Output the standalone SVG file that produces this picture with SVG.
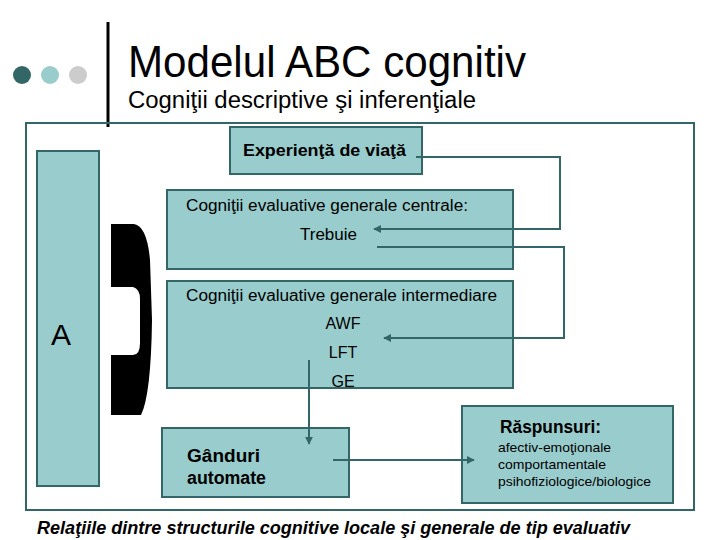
<svg xmlns="http://www.w3.org/2000/svg" width="720" height="540" viewBox="0 0 720 540">
<defs>
<style>
.box{fill:#99cccc;stroke:#336666;stroke-width:2}
.con{fill:none;stroke:#336666;stroke-width:2}
.t{font-family:"Liberation Sans",Arial,sans-serif;fill:#000}
.b{font-weight:bold}
</style>
<marker id="ah" viewBox="0 0 10 10" refX="9" refY="5" markerWidth="4" markerHeight="4" orient="auto">
<path d="M0,0 L10,5 L0,10 Z" fill="#336666"/>
</marker>
</defs>
<rect width="720" height="540" fill="#fff"/>
<g id="header">
<circle cx="22" cy="75" r="9" fill="#336666"/>
<circle cx="50" cy="75" r="9" fill="#99cccc"/>
<circle cx="78" cy="75" r="9" fill="#cccccc"/>
<line x1="108" y1="22" x2="108" y2="127" stroke="#000" stroke-width="3"/>
<text class="t" x="128" y="77" font-size="44" textLength="398" lengthAdjust="spacingAndGlyphs">Modelul ABC cognitiv</text>
<text class="t" x="128" y="108" font-size="23" textLength="348" lengthAdjust="spacingAndGlyphs">Cogniţii descriptive şi inferenţiale</text>
</g>
<rect id="frame" x="26" y="123" width="668" height="387" fill="none" stroke="#336666" stroke-width="2"/>
<g id="nodeA">
<rect class="box" x="37" y="151" width="62" height="335"/>
<text class="t" x="51" y="345" font-size="30">A</text>
</g>
<g id="bracket">
<path fill="#000" fill-rule="evenodd" d="M111,224 L134,224 Q147,226 150,260 L152,320 Q151,395 141,415 L111,415 Z M111,287 L133,287 Q140,289 140,299 L140,343 Q140,355 133,355 L111,355 Z"/>
</g>
<g id="experienta">
<rect class="box" x="230" y="127" width="192" height="47"/>
<text class="t b" x="243" y="156" font-size="16" textLength="163" lengthAdjust="spacingAndGlyphs">Experienţă de viaţă</text>
</g>
<g id="centrale">
<rect class="box" x="167" y="190" width="346" height="79"/>
<text class="t" x="186" y="211" font-size="16" textLength="282" lengthAdjust="spacingAndGlyphs">Cogniţii evaluative generale centrale:</text>
<text class="t" x="300" y="240" font-size="16" textLength="57" lengthAdjust="spacingAndGlyphs">Trebuie</text>
</g>
<g id="intermediare">
<rect class="box" x="167" y="281" width="346" height="107"/>
<text class="t" x="186" y="301" font-size="16" textLength="311" lengthAdjust="spacingAndGlyphs">Cogniţii evaluative generale intermediare</text>
<text class="t" x="343" y="329" font-size="16" text-anchor="middle">AWF</text>
<text class="t" x="343" y="358" font-size="16" text-anchor="middle">LFT</text>
<text class="t" x="343" y="387" font-size="16" text-anchor="middle">GE</text>
</g>
<g id="ganduri">
<rect class="box" x="162" y="428" width="187" height="69"/>
<text class="t b" x="187" y="462" font-size="18" textLength="73" lengthAdjust="spacingAndGlyphs">Gânduri</text>
<text class="t b" x="187" y="484" font-size="18" textLength="79" lengthAdjust="spacingAndGlyphs">automate</text>
</g>
<g id="raspunsuri">
<rect class="box" x="462" y="406" width="211" height="97"/>
<text class="t b" x="500" y="433" font-size="18" textLength="101" lengthAdjust="spacingAndGlyphs">Răspunsuri:</text>
<text class="t" x="498" y="452" font-size="13" textLength="113" lengthAdjust="spacingAndGlyphs">afectiv-emoţionale</text>
<text class="t" x="498" y="469" font-size="13" textLength="108" lengthAdjust="spacingAndGlyphs">comportamentale</text>
<text class="t" x="498" y="486" font-size="13" textLength="153" lengthAdjust="spacingAndGlyphs">psihofiziologice/biologice</text>
</g>
<g id="connectors">
<polyline class="con" points="416,157 560,157 560,229 374,229" marker-end="url(#ah)"/>
<polyline class="con" points="377,247 564,247 564,338 384,338" marker-end="url(#ah)"/>
<polyline class="con" points="309,360 309,444" marker-end="url(#ah)"/>
<polyline class="con" points="333,460 474,460" marker-end="url(#ah)"/>
</g>
<text class="t b" x="37" y="534" font-size="18" font-style="italic" textLength="593" lengthAdjust="spacingAndGlyphs">Relaţiile dintre structurile cognitive locale şi generale de tip evaluativ</text>
</svg>
